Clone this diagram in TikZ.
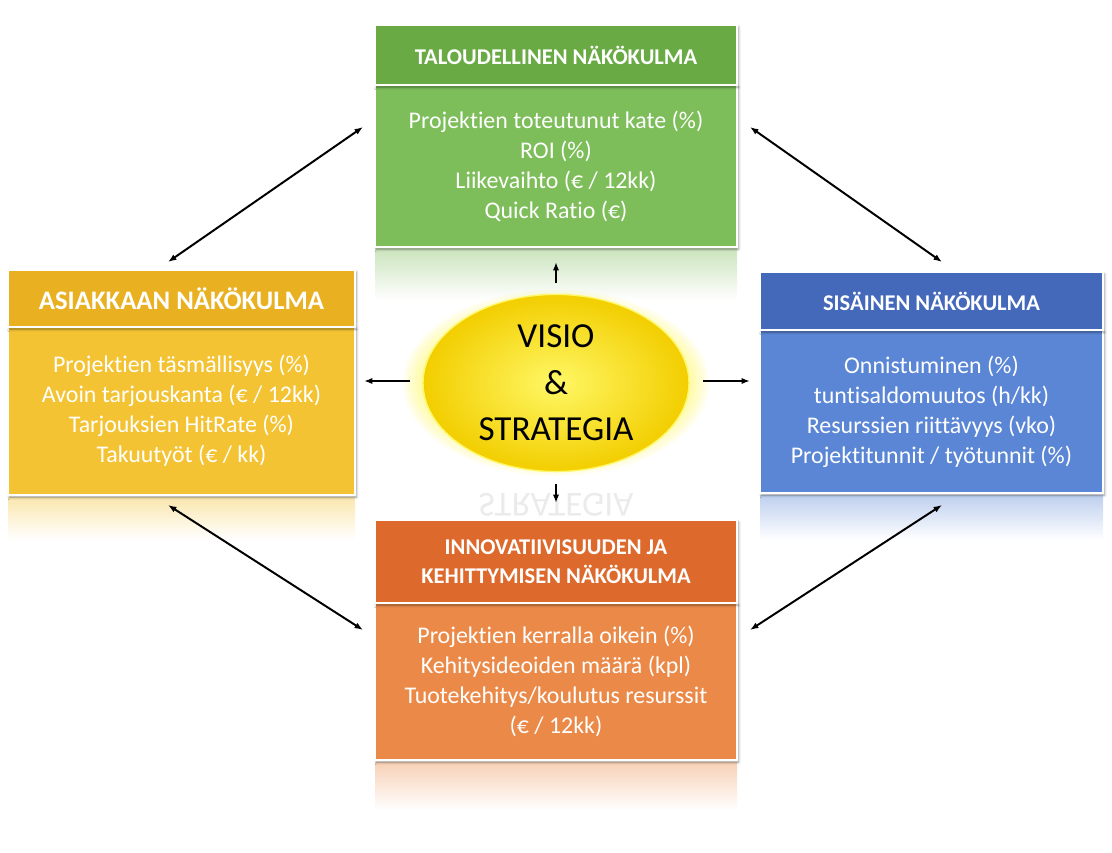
\documentclass[tikz,border=0pt]{standalone}
\usepackage{fontspec}
\setmainfont{Carlito}[Ligatures={NoCommon}]
\usetikzlibrary{shapes.geometric,arrows.meta,shadows.blur}
\definecolor{gH}{HTML}{6AAA45}\definecolor{gB}{HTML}{7DBD5A}
\definecolor{yH}{HTML}{E9B122}\definecolor{yB}{HTML}{F3C333}
\definecolor{bH}{HTML}{4468BA}\definecolor{bB}{HTML}{5A86D5}
\definecolor{oH}{HTML}{DD6A2C}\definecolor{oB}{HTML}{EB8A48}
\tikzset{
 hdr/.style={draw=white,line width=0.8pt,inner sep=0pt,text=white,font=\fontsize{16}{20}\selectfont\bfseries,align=center,blur shadow={shadow blur steps=5,shadow xshift=1pt,shadow yshift=-1.5pt}},
 bdy/.style={draw=white,line width=0.8pt,inner sep=0pt,text=white,font=\fontsize{17}{21.3}\selectfont,align=center,blur shadow={shadow blur steps=5,shadow xshift=1pt,shadow yshift=-1.5pt}},
 dbl/.style={{Latex[length=6pt]}-{Latex[length=6pt]},line width=1.4pt},
 one/.style={-{Latex[length=6pt]},line width=1.4pt}
}
\begin{document}
\begin{tikzpicture}[x=0.025cm,y=-0.025cm]
\useasboundingbox (0,0) rectangle (1112,853);
% reflections
\fill[top color=gB!40,bottom color=white] (375,249) rectangle (737,300);
\fill[top color=yB!40,bottom color=white] (8,497) rectangle (355,540);
\fill[top color=bB!40,bottom color=white] (760,495) rectangle (1103,540);
\fill[top color=oB!40,bottom color=white] (375,762) rectangle (737,810);
% boxes
\node[bdy,fill=gB,minimum width=362*0.025cm,minimum height=162*0.025cm] (tb) at (556,166) {Projektien toteutunut kate (\%)\\ROI (\%)\\Liikevaihto (€ / 12kk)\\Quick Ratio (€)};
\node[hdr,fill=gH,minimum width=362*0.025cm,minimum height=60*0.025cm] (th) at (556,55) {TALOUDELLINEN NÄKÖKULMA};
\node[bdy,fill=yB,minimum width=347*0.025cm,minimum height=168*0.025cm] (lb) at (181.5,411) {Projektien täsmällisyys (\%)\\Avoin tarjouskanta (€ / 12kk)\\Tarjouksien HitRate (\%)\\Takuutyöt (€ / kk)};
\node[hdr,fill=yH,minimum width=347*0.025cm,minimum height=57*0.025cm,font=\fontsize{19}{22}\selectfont\bfseries] (lh) at (181.5,298.5) {ASIAKKAAN NÄKÖKULMA};
\node[bdy,fill=bB,minimum width=343*0.025cm,minimum height=163*0.025cm] (rb) at (931.5,411.5) {Onnistuminen (\%)\\tuntisaldomuutos (h/kk)\\Resurssien riittävyys (vko)\\Projektitunnit / työtunnit (\%)};
\node[hdr,fill=bH,minimum width=343*0.025cm,minimum height=58*0.025cm] (rh) at (931.5,301) {SISÄINEN NÄKÖKULMA};
\node[bdy,fill=oB,minimum width=362*0.025cm,minimum height=157*0.025cm] (bb) at (556,681.5) {Projektien kerralla oikein (\%)\\Kehitysideoiden määrä (kpl)\\Tuotekehitys/koulutus resurssit\\(€ / 12kk)};
\node[hdr,fill=oH,minimum width=362*0.025cm,minimum height=83*0.025cm,font=\fontsize{16}{21}\selectfont\bfseries] (bh) at (556,561.5) {INNOVATIIVISUUDEN JA\\KEHITTYMISEN NÄKÖKULMA};
% glow
\foreach \i in {1,...,8}{\fill[yellow!70!white,opacity=0.08] (556,383) ellipse ({(133+2.5*\i)*0.025cm} and {(73+2.5*\i)*0.025cm});}
\node[ellipse,draw=yellow!60!white,line width=1pt,inner color=yellow!90!orange!60,outer color=orange!30!yellow!95!black,minimum width=266*0.025cm,minimum height=146*0.025cm,font=\fontsize{25}{33}\selectfont,align=center] (v) at (556,383) {VISIO\\\&\\STRATEGIA};
\node[font=\fontsize{25}{33}\selectfont,yscale=-1,opacity=0.08] at (556,505) {STRATEGIA};
% coordinates
\coordinate (a1) at (363,127);\coordinate (a2) at (168,262);
\coordinate (b1) at (750,127);\coordinate (b2) at (942,262);
\coordinate (c1) at (168,505);\coordinate (c2) at (363,630);
\coordinate (d1) at (942,505);\coordinate (d2) at (750,630);
\draw[dbl] (a1)--(a2);\draw[dbl] (b1)--(b2);\draw[dbl] (c1)--(c2);\draw[dbl] (d1)--(d2);
\coordinate (u0) at (556,283);\coordinate (u1) at (556,262);
\coordinate (l0) at (410,381);\coordinate (l1) at (364,381);
\coordinate (r0) at (703,381);\coordinate (r1) at (750,381);
\coordinate (w0) at (556,484);\coordinate (w1) at (556,503);
\draw[one] (u0)--(u1);\draw[one] (l0)--(l1);\draw[one] (r0)--(r1);\draw[one] (w0)--(w1);
\end{tikzpicture}
\end{document}
